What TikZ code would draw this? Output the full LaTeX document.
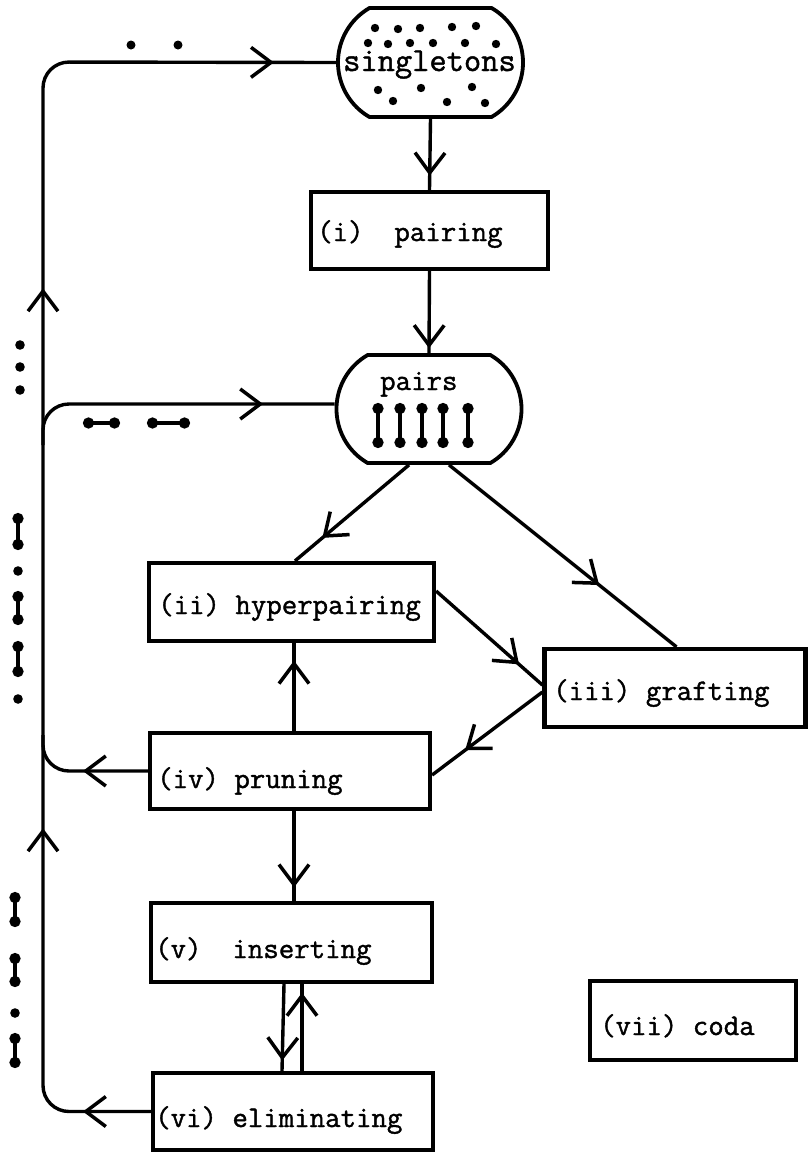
\documentclass[tikz,border=0pt]{standalone}
\usepackage{fontspec}
\setmonofont{Latin Modern Mono}[BoldFont={Latin Modern Mono}, BoldFeatures={FakeBold=1.3}]
\usetikzlibrary{arrows.meta,decorations.markings,shapes.misc}
\tikzset{
  barb/.tip={Straight Barb[length=20pt,width=30pt,line width=3.5pt]},
  conn/.style={line width=3.4pt},
  box/.style={draw, line width=4.2pt, rectangle, inner sep=0pt},
  barrel/.style={draw, line width=3.8pt, rounded rectangle, rounded rectangle arc length=120, inner sep=0pt, minimum width=185pt, minimum height=109pt},
  lbl/.style={anchor=base west, inner sep=0pt, font=\ttfamily\bfseries\fontsize{30}{36}\selectfont},
  arr/.style={postaction={decorate}, decoration={markings, mark=at position #1 with {\arrow{barb}}}},
  dumb/.style={line width=4.2pt, {Circle[length=11pt]}-{Circle[length=11pt]}},
  spot/.style={fill=black},
}
\begin{document}
\begin{tikzpicture}[x=1pt,y=-1pt]
\fill[white] (0,0) rectangle (808,1152);
\useasboundingbox (0,0) rectangle (808,1152);

% sets
\node[barrel] (sing) at (430.5,62.5) {};
\node[barrel, minimum height=108pt] (pairs) at (429,409) {};
\node[lbl, font=\ttfamily\bfseries\fontsize{33.5}{40}\selectfont] (singtxt) at (343,71) {singletons};
\node[lbl] (pairstxt) at (380,390) {pairs};

% boxes
\node[box, minimum width=237pt, minimum height=77pt] (pairing) at (429.5,230.5) {};
\node[box, minimum width=285pt, minimum height=78pt] (hyper) at (291.5,602) {};
\node[box, minimum width=261pt, minimum height=78pt] (graft) at (675,688) {};
\node[box, minimum width=280pt, minimum height=76pt] (prun) at (290,771) {};
\node[box, minimum width=281pt, minimum height=79pt] (ins) at (291.5,942.5) {};
\node[box, minimum width=280pt, minimum height=77pt] (elim) at (293,1111.5) {};
\node[box, minimum width=206pt, minimum height=79pt] (coda) at (693,1020.5) {};

\node[lbl] (pairingtxt) at (317,241) {(i)\ \ pairing};
\node[lbl] (hypertxt) at (158,614) {(ii) hyperpairing};
\node[lbl] (grafttxt) at (553,700) {(iii) grafting};
\node[lbl] (pruntxt) at (157,788) {(iv) pruning};
\node[lbl] (instxt) at (155,958) {(v)\ \ inserting};
\node[lbl] (elimtxt) at (155,1127) {(vi) eliminating};
\node[lbl] (codatxt) at (600,1035) {(vii) coda};

% dots in singletons
\foreach \p in {(375,28),(398,29),(420,28),(452,27),(476,26),
                (368,43),(388,44),(410,43),(433,43),(465,43),(496,44),
                (378,90),(421,88),(472,87),
                (393,101),(447,102),(485,103)}
  \fill[spot] \p circle (4.2pt);

% pairs in the pairs set
\foreach \x in {378,400,422,443,468}
  \draw[dumb] (\x,403) -- (\x,448);

% main vertical connectors
\draw[conn, arr=0.8] (sing.south) -- (pairing.north);
\draw[conn, arr=0.94] (pairing.south) -- (pairs.north);
\draw[conn, arr=0.76] ([xshift=-20pt]pairs.south) -- ([xshift=3.5pt]hyper.north);
\draw[conn, arr=0.66] ([xshift=20pt]pairs.south) -- ([xshift=1.5pt]graft.north);
\draw[conn, arr=0.78] ([yshift=11pt]hyper.east) -- ([yshift=3pt]graft.west);
\draw[conn, arr=0.7] ([yshift=-4pt]graft.west) -- ([yshift=-4pt]prun.east);
\draw[conn, arr=0.8] ([xshift=4pt]prun.north) -- ([xshift=4pt]prun.north |- hyper.south);
\draw[conn, arr=0.85] ([xshift=4pt]prun.south) -- ([xshift=4pt]prun.south |- ins.north);
\draw[conn, arr=0.88] ([xshift=-7.5pt]ins.south) -- ([xshift=-11pt]elim.north);
\draw[conn, arr=0.9] ([xshift=9pt]elim.north) -- ([xshift=10.5pt]ins.south);

% left trunk
\coordinate (tb) at (43,1113);
\coordinate (tt) at (43,62);
\coordinate (pj) at (43,735);
\coordinate (bj) at (43,445);
\coordinate (pairsin) at ([yshift=5pt]pairs.west);
\draw[conn, rounded corners=26pt, postaction={decorate},
  decoration={markings,
    mark=at position 68pt with {\arrow{barb}},
    mark=at position 380pt with {\arrow{barb}},
    mark=at position 920pt with {\arrow{barb}},
    mark=at position 1366pt with {\arrow{barb}}}]
  (elim.west) -- (tb |- elim.west) -- (tt) -- (sing.west);
\draw[conn, rounded corners=26pt, arr=65pt]
  (prun.west) -- (prun.west -| tb) -- (pj);
\draw[conn, rounded corners=26pt, arr=250pt]
  (bj) -- (bj |- pairsin) -- (pairsin);

% marks beside the loops
\fill[spot] (131,45) circle (4.5pt);
\fill[spot] (178,45) circle (4.5pt);
\draw[dumb] (83,423) -- (120,423);
\draw[dumb] (147,423) -- (190,423);
\foreach \y in {345,367,390} \fill[spot] (20,\y) circle (4.8pt);
\draw[dumb] (18,513) -- (18,550);
\fill[spot] (18,571) circle (4.8pt);
\draw[dumb] (18,591) -- (18,625);
\draw[dumb] (18,641) -- (18,677);
\fill[spot] (18,699) circle (4.8pt);
\draw[dumb] (15,892) -- (15,927);
\draw[dumb] (15,953) -- (15,987);
\fill[spot] (15,1013) circle (4.8pt);
\draw[dumb] (15,1033) -- (15,1068);
\end{tikzpicture}
\end{document}
